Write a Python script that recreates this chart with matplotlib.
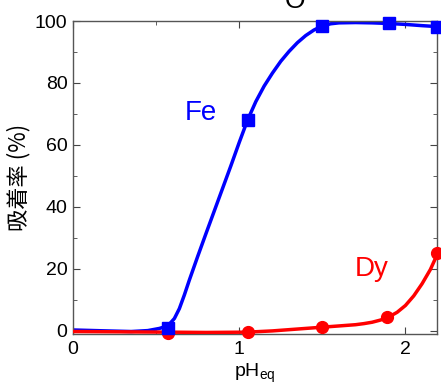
"""Adsorption ratio of Fe and Dy against equilibrium pH."""

import matplotlib

matplotlib.use("Agg")
import matplotlib.pyplot as plt
from matplotlib.ticker import MultipleLocator

plt.rcParams["font.family"] = ["Liberation Sans", "DejaVu Sans"]
plt.rcParams["mathtext.fontset"] = "custom"
plt.rcParams["mathtext.rm"] = "Liberation Sans"
plt.rcParams["mathtext.it"] = "Liberation Sans:italic"

# measured points
fe_ph = [0.57, 1.05, 1.50, 1.90, 2.19]
fe_ads = [1.0, 68.0, 98.4, 99.3, 98.2]
dy_ph = [0.57, 1.05, 1.50, 1.89, 2.19]
dy_ads = [-0.7, -0.5, 1.4, 4.5, 25.0]

# fitted curves
fe_curve_ph = [0.00, 0.20, 0.35, 0.45, 0.52, 0.55, 0.58, 0.61, 0.64, 0.67,
               0.70, 0.75, 0.80, 0.85, 0.90, 0.95, 1.00, 1.05, 1.10, 1.15,
               1.20, 1.25, 1.30, 1.35, 1.40, 1.45, 1.50, 1.55, 1.60, 1.70,
               1.80, 1.90, 2.00, 2.10, 2.19]
fe_curve_ads = [0.3, 0.0, -0.2, 0.1, 0.8, 1.3, 2.2, 4.0, 7.2, 11.6,
                16.4, 24.0, 31.4, 38.7, 46.0, 53.3, 60.8, 68.0, 74.0, 79.0,
                83.2, 87.0, 90.2, 93.0, 95.3, 97.1, 98.4, 99.1, 99.4, 99.5,
                99.4, 99.2, 98.9, 98.5, 98.2]
dy_curve_ph = [0.00, 0.30, 0.57, 0.80, 1.05, 1.20, 1.30, 1.40, 1.50, 1.60,
               1.70, 1.75, 1.80, 1.85, 1.90, 1.95, 2.00, 2.05, 2.10, 2.15,
               2.19]
dy_curve_ads = [-0.2, -0.3, -0.4, -0.5, -0.4, 0.0, 0.4, 0.8, 1.2, 1.6,
                2.0, 2.35, 2.8, 3.5, 4.5, 6.0, 8.2, 11.3, 15.2, 19.8,
                24.5]

fig = plt.figure(figsize=(4.41, 3.87), dpi=100)
ax = fig.add_axes([73 / 441, 53 / 387, 364 / 441, 313 / 387])

ax.plot(fe_curve_ph, fe_curve_ads, color="#0000ff", lw=2.5, zorder=2)
ax.plot(dy_curve_ph, dy_curve_ads, color="#ff0000", lw=2.5, zorder=3)
ax.plot(dy_ph, dy_ads, "o", color="#ff0000", ms=8.5, zorder=4, clip_on=False)
ax.plot(fe_ph, fe_ads, "s", color="#0000ff", ms=8, zorder=5, clip_on=False)

ax.text(0.77, 70.3, "Fe", color="#0000ff", fontsize=20,
        ha="center", va="center")
ax.text(1.80, 20, "Dy", color="#ff0000", fontsize=20, ha="center", va="center")

ax.set_xlim(0, 2.19)
ax.set_ylim(-1, 100)
ax.xaxis.set_major_locator(MultipleLocator(1))
ax.xaxis.set_minor_locator(MultipleLocator(0.5))
ax.yaxis.set_major_locator(MultipleLocator(20))
ax.yaxis.set_minor_locator(MultipleLocator(10))
ax.tick_params(which="both", direction="in", top=True, right=True,
               color="#444444", labelsize=14)
ax.tick_params(axis="x", which="major", length=5, pad=5)
ax.tick_params(axis="y", which="major", length=5, pad=4)
ax.tick_params(which="minor", length=3)
for spine in ax.spines.values():
    spine.set_color("#555555")
    spine.set_linewidth(1.0)

ax.set_xlabel(r"pH$_\mathrm{eq}$", fontsize=14, labelpad=3)
ax.set_ylabel("吸着率 (%)", fontsize=16,
              family=["Noto Sans CJK JP", "DejaVu Sans"], labelpad=3)

# title cut off at the top edge of the original image
fig.text(295 / 441, 1 - 8 / 387, "O", fontsize=19, ha="center", va="baseline")

fig.savefig("out.png", dpi=100)
